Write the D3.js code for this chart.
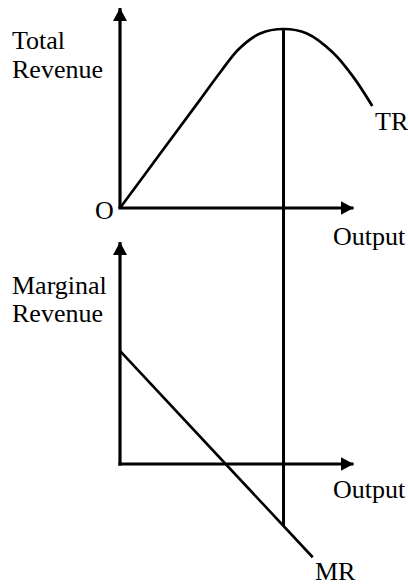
<!DOCTYPE html>
<html>
<head>
<meta charset="utf-8">
<script src="https://cdn.jsdelivr.net/npm/d3@7/dist/d3.min.js"></script>
<style>
  html, body { margin: 0; padding: 0; background: #fff; }
  svg { display: block; }
  text { font-family: "Liberation Serif", "Times New Roman", serif; font-size: 26px; fill: #000; }
</style>
</head>
<body>
<svg id="chart" width="408" height="586"></svg>
<script>
// ---- Data ----
// Total revenue curve: output quantity vs total revenue
const trOutput = [0, 1.7, 3.4, 4.3, 5.1, 6.0, 7.0, 8.0, 9.1, 10.0, 10.8];
const trValues = [0, 30, 60, 76, 89, 97.5, 100, 97.5, 87, 73, 57];
// Marginal revenue line: output quantity vs marginal revenue
const mrOutput = [0, 8.25];
const mrValues = [51, -42];
// Output at which TR peaks (vertical guide line)
const peakOutput = [7];
// Axis labels
const topYLabel = ["Total", "Revenue"];
const bottomYLabel = ["Marginal", "Revenue"];
const xLabel = "Output";
const originLabel = "O";
const trLabel = "TR";
const mrLabel = "MR";

// ---- Scales ----
const x = d3.scaleLinear().domain([0, 10]).range([120, 353.6]);
const yTop = d3.scaleLinear().domain([0, 100]).range([208, 29]);
const yBot = d3.scaleLinear().domain([0, 100]).range([464, 242]);

const svg = d3.select("#chart");

// arrow heads
const defs = svg.append("defs");
defs.append("marker")
  .attr("id", "arrow")
  .attr("viewBox", "0 0 13 14")
  .attr("refX", 13).attr("refY", 7)
  .attr("markerWidth", 13).attr("markerHeight", 14)
  .attr("markerUnits", "userSpaceOnUse")
  .attr("orient", "auto")
  .append("path").attr("d", "M0,0 L13,7 L0,14 Z").attr("fill", "#000");

const axisStroke = 3.2;

// ---- Top panel axes ----
const topYMax = yTop.invert(8);
svg.append("line")
  .attr("x1", x(0)).attr("y1", yTop(0))
  .attr("x2", x(0)).attr("y2", yTop(topYMax))
  .attr("stroke", "#000").attr("stroke-width", axisStroke)
  .attr("marker-end", "url(#arrow)");
svg.append("line")
  .attr("x1", x(0) - axisStroke / 2).attr("y1", yTop(0))
  .attr("x2", x(10)).attr("y2", yTop(0))
  .attr("stroke", "#000").attr("stroke-width", axisStroke)
  .attr("marker-end", "url(#arrow)");

// ---- Bottom panel axes ----
svg.append("line")
  .attr("x1", x(0)).attr("y1", yBot(0) + axisStroke / 2)
  .attr("x2", x(0)).attr("y2", yBot(100))
  .attr("stroke", "#000").attr("stroke-width", axisStroke)
  .attr("marker-end", "url(#arrow)");
svg.append("line")
  .attr("x1", x(0) - axisStroke / 2).attr("y1", yBot(0))
  .attr("x2", x(10)).attr("y2", yBot(0))
  .attr("stroke", "#000").attr("stroke-width", axisStroke)
  .attr("marker-end", "url(#arrow)");

// ---- TR curve ----
const trData = trOutput.map((q, i) => [q, trValues[i]]);
svg.append("path")
  .datum(trData)
  .attr("fill", "none")
  .attr("stroke", "#000")
  .attr("stroke-width", 2.7)
  .attr("d", d3.line().x(d => x(d[0])).y(d => yTop(d[1])).curve(d3.curveCatmullRom.alpha(0.5)));

// ---- MR line ----
const mrData = mrOutput.map((q, i) => [q, mrValues[i]]);
svg.append("path")
  .datum(mrData)
  .attr("fill", "none")
  .attr("stroke", "#000")
  .attr("stroke-width", 2.6)
  .attr("d", d3.line().x(d => x(d[0])).y(d => yBot(d[1])));

// ---- Vertical guide at TR maximum ----
const mrAt = d3.scaleLinear().domain(mrOutput).range(mrValues);
const trPeak = d3.max(trValues);
svg.append("line")
  .attr("x1", x(peakOutput[0])).attr("y1", yTop(trPeak) - 1)
  .attr("x2", x(peakOutput[0])).attr("y2", yBot(mrAt(peakOutput[0])))
  .attr("stroke", "#000").attr("stroke-width", 3);

// ---- Labels ----
svg.append("text").attr("x", 12).attr("y", 49).text(topYLabel[0]);
svg.append("text").attr("x", 12).attr("y", 78).text(topYLabel[1]);
svg.append("text").attr("x", 12).attr("y", 294).text(bottomYLabel[0]);
svg.append("text").attr("x", 12).attr("y", 322).text(bottomYLabel[1]);
svg.append("text").attr("x", 95).attr("y", 219).text(originLabel);
svg.append("text").attr("x", 333).attr("y", 245).text(xLabel);
svg.append("text").attr("x", 333).attr("y", 498).text(xLabel);
svg.append("text").attr("x", 375).attr("y", 130).text(trLabel);
svg.append("text").attr("x", 315).attr("y", 580).text(mrLabel);
</script>
</body>
</html>
